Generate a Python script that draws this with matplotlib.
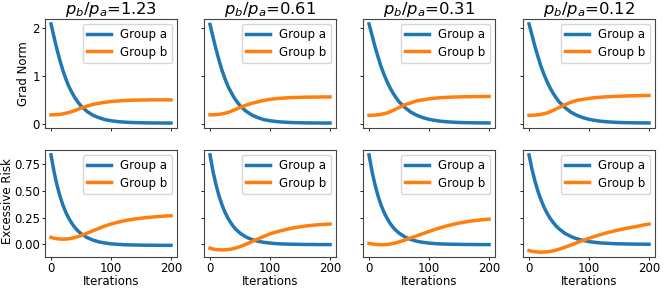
import matplotlib
matplotlib.use("Agg")
import matplotlib.pyplot as plt

iters = [0, 5, 10, 15, 20, 25, 30, 35, 40, 45, 50, 60, 70, 80, 90, 100,
         110, 120, 130, 140, 150, 160, 170, 180, 190, 200]
ratios = ["1.23", "0.61", "0.31", "0.12"]

# Grad norm (top row)
grad_a = [
    [2.08, 1.81, 1.55, 1.32, 1.11, 0.935, 0.78, 0.66, 0.55, 0.46, 0.385, 0.27, 0.19, 0.14, 0.10, 0.078, 0.062, 0.051, 0.044, 0.039, 0.036, 0.033, 0.032, 0.031, 0.03, 0.03],
    [2.07, 1.81, 1.56, 1.33, 1.12, 0.945, 0.79, 0.67, 0.56, 0.47, 0.39, 0.275, 0.195, 0.14, 0.10, 0.078, 0.062, 0.051, 0.044, 0.039, 0.036, 0.033, 0.032, 0.031, 0.03, 0.03],
    [2.08, 1.85, 1.61, 1.40, 1.20, 1.035, 0.89, 0.76, 0.65, 0.556, 0.47, 0.35, 0.254, 0.188, 0.141, 0.107, 0.084, 0.067, 0.056, 0.048, 0.042, 0.038, 0.036, 0.034, 0.033, 0.032],
    [2.08, 1.85, 1.61, 1.40, 1.20, 1.035, 0.89, 0.76, 0.65, 0.556, 0.47, 0.35, 0.254, 0.188, 0.141, 0.107, 0.084, 0.067, 0.056, 0.048, 0.042, 0.038, 0.036, 0.034, 0.033, 0.032],
]
grad_b = [
    [0.20, 0.201, 0.205, 0.211, 0.22, 0.233, 0.25, 0.268, 0.29, 0.315, 0.34, 0.38, 0.415, 0.44, 0.46, 0.475, 0.485, 0.493, 0.50, 0.503, 0.506, 0.508, 0.51, 0.51, 0.51, 0.51],
    [0.20, 0.201, 0.205, 0.211, 0.22, 0.233, 0.25, 0.273, 0.30, 0.325, 0.35, 0.40, 0.44, 0.47, 0.50, 0.52, 0.535, 0.545, 0.553, 0.558, 0.562, 0.565, 0.567, 0.568, 0.57, 0.57],
    [0.19, 0.191, 0.195, 0.201, 0.21, 0.223, 0.24, 0.263, 0.29, 0.32, 0.35, 0.41, 0.45, 0.49, 0.51, 0.53, 0.545, 0.555, 0.562, 0.567, 0.571, 0.574, 0.576, 0.578, 0.579, 0.58],
    [0.19, 0.191, 0.195, 0.201, 0.21, 0.223, 0.24, 0.263, 0.29, 0.32, 0.35, 0.41, 0.46, 0.50, 0.52, 0.54, 0.555, 0.565, 0.573, 0.58, 0.585, 0.589, 0.593, 0.596, 0.598, 0.60],
]

# Excessive risk (bottom row)
risk_a = [
    [0.84, 0.683, 0.555, 0.451, 0.366, 0.296, 0.24, 0.194, 0.156, 0.125, 0.10, 0.063, 0.039, 0.022, 0.012, 0.004, 0.0, -0.004, -0.006, -0.007, -0.008, -0.009, -0.009, -0.01, -0.01, -0.01],
    [0.84, 0.685, 0.56, 0.455, 0.37, 0.30, 0.245, 0.198, 0.16, 0.13, 0.105, 0.068, 0.044, 0.028, 0.018, 0.011, 0.006, 0.003, 0.001, 0.0, -0.001, -0.002, -0.002, -0.003, -0.003, -0.003],
    [0.84, 0.685, 0.56, 0.455, 0.37, 0.30, 0.245, 0.198, 0.16, 0.13, 0.105, 0.068, 0.044, 0.028, 0.018, 0.011, 0.006, 0.003, 0.001, 0.0, -0.001, -0.002, -0.002, -0.003, -0.003, -0.003],
    [0.84, 0.705, 0.591, 0.496, 0.417, 0.349, 0.293, 0.246, 0.207, 0.173, 0.145, 0.102, 0.072, 0.051, 0.036, 0.025, 0.018, 0.012, 0.009, 0.006, 0.004, 0.003, 0.002, 0.001, 0.001, 0.0],
]
risk_b = [
    [0.065, 0.057, 0.052, 0.049, 0.048, 0.049, 0.052, 0.057, 0.064, 0.072, 0.082, 0.104, 0.127, 0.150, 0.172, 0.19, 0.205, 0.218, 0.229, 0.238, 0.245, 0.251, 0.256, 0.261, 0.265, 0.268],
    [-0.037, -0.045, -0.05, -0.052, -0.053, -0.052, -0.05, -0.046, -0.04, -0.032, -0.022, 0.0, 0.025, 0.05, 0.075, 0.097, 0.115, 0.13, 0.143, 0.155, 0.164, 0.172, 0.178, 0.183, 0.187, 0.19],
    [0.008, 0.003, 0.0, -0.003, -0.005, -0.004, -0.002, 0.002, 0.008, 0.014, 0.022, 0.04, 0.06, 0.08, 0.10, 0.12, 0.14, 0.157, 0.173, 0.187, 0.199, 0.209, 0.218, 0.225, 0.231, 0.236],
    [-0.059, -0.066, -0.07, -0.073, -0.074, -0.073, -0.071, -0.067, -0.062, -0.055, -0.047, -0.028, -0.007, 0.015, 0.036, 0.056, 0.075, 0.092, 0.108, 0.122, 0.135, 0.147, 0.158, 0.168, 0.18, 0.19],
]

FS = 8.5
plt.rcParams['font.family'] = ['DejaVu Sans']
fig = plt.figure(figsize=(6.65, 2.89), dpi=100)

W, H = 665.0, 289.0
lefts = [45, 204, 363, 523]
aw = 132
top_row = (19, 128)
bot_row = (150, 257)

c_a = "#1f77b4"
c_b = "#ff7f0e"
lw = 2.5

axes_top = []
axes_bot = []
for j in range(4):
    l = lefts[j] / W
    w = aw / W
    at = fig.add_axes([l, 1 - top_row[1] / H, w, (top_row[1] - top_row[0]) / H],
                      sharey=axes_top[0] if axes_top else None)
    ab = fig.add_axes([l, 1 - bot_row[1] / H, w, (bot_row[1] - bot_row[0]) / H],
                      sharex=at, sharey=axes_bot[0] if axes_bot else None)
    axes_top.append(at)
    axes_bot.append(ab)

    at.plot(iters, grad_a[j], color=c_a, lw=lw, label="Group a")
    at.plot(iters, grad_b[j], color=c_b, lw=lw, label="Group b")
    ab.plot(iters, risk_a[j], color=c_a, lw=lw, label="Group a")
    ab.plot(iters, risk_b[j], color=c_b, lw=lw, label="Group b")

    at.set_title(r"$p_b/p_a$=" + ratios[j], fontsize=11.8, pad=1)
    for ax in (at, ab):
        ax.legend(loc="upper right", fontsize=FS, handlelength=2.0,
                  borderaxespad=0.4, labelspacing=0.35)
        ax.tick_params(labelsize=FS, length=2.5, width=0.6, pad=1.2)
        for s in ax.spines.values():
            s.set_linewidth(0.8)
            s.set_color("#444444")
    at.set_xticks([0, 100, 200])
    at.tick_params(labelbottom=False)
    ab.set_xlabel("Iterations", fontsize=FS, labelpad=0)
    if j > 0:
        at.tick_params(labelleft=False)
        ab.tick_params(labelleft=False)

axes_top[0].set_yticks([0, 1, 2])
axes_bot[0].set_yticks([0.0, 0.25, 0.5, 0.75])
axes_top[0].set_ylabel("Grad Norm", fontsize=FS)
axes_bot[0].set_ylabel("Excessive Risk", fontsize=FS)
axes_top[0].yaxis.set_label_coords(-0.11, 0.5)
axes_bot[0].yaxis.set_label_coords(-0.235, 0.52)

fig.savefig("out.png", dpi=100)
